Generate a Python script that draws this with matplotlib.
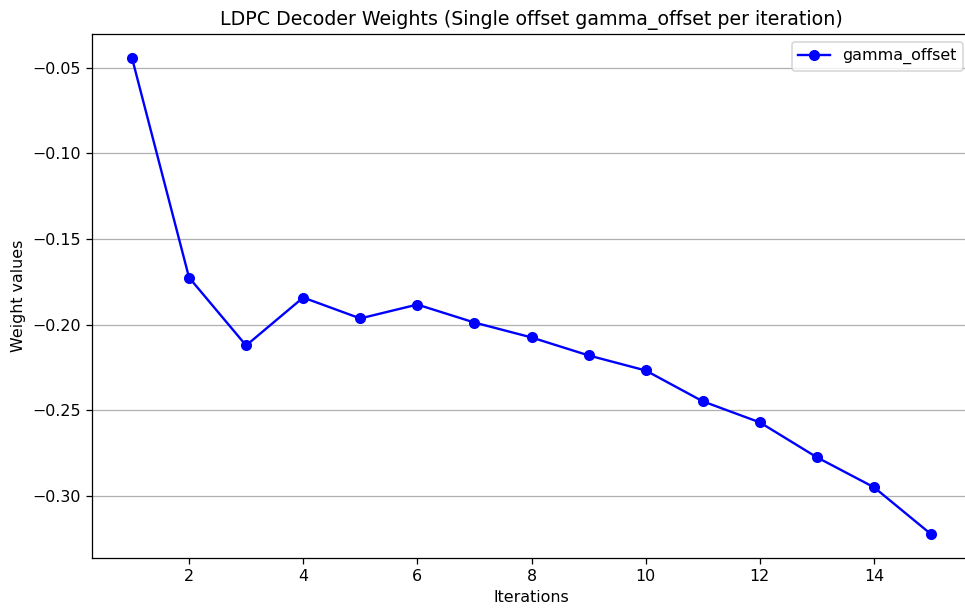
import numpy as np
import matplotlib
matplotlib.use('Agg')
import matplotlib.pyplot as plt

# gamma offset learned for each decoder iteration
iterations = np.arange(1, 16)
gamma_offset = [-0.0442, -0.1725, -0.2122, -0.1842, -0.1964, -0.1883, -0.1988,
                -0.2075, -0.2180, -0.2268, -0.2448, -0.2571, -0.2775, -0.2950, -0.3224]

DPI = 114
fig = plt.figure(figsize=(966/DPI, 608/DPI), dpi=DPI)
ax = fig.add_axes([92/966, 50/608, 879/966, 524/608])

ax.plot(iterations, gamma_offset, marker='o', color='blue', label='gamma_offset')
ax.set_title('LDPC Decoder Weights (Single offset gamma_offset per iteration)')
ax.set_xlabel('Iterations')
ax.set_ylabel('Weight values')
ax.grid(axis='y')
ax.legend(loc='upper right')

fig.savefig('out.png', dpi=DPI)
